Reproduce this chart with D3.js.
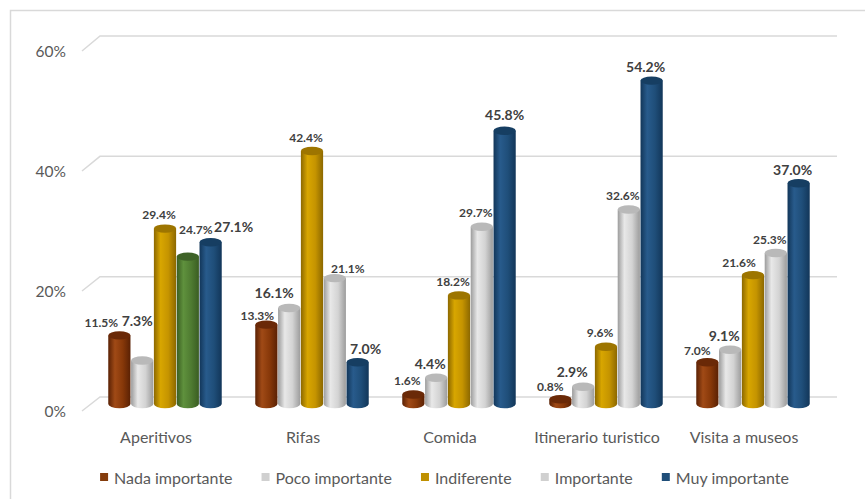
<!DOCTYPE html>
<html>
<head>
<meta charset="utf-8">
<script src="https://cdn.jsdelivr.net/npm/d3@7"></script>
<style>
  html, body { margin: 0; padding: 0; background: #fff; }
  svg { display: block; }
</style>
</head>
<body>
<svg id="chart" width="865" height="499"></svg>
<script>
// Importance ratings per activity (percent)
const categories = ["Aperitivos", "Rifas", "Comida", "Itinerario turistico", "Visita a museos"];
const seriesNames = ["Nada importante", "Poco importante", "Indiferente", "Importante", "Muy importante"];
const nadaImportante = [11.5, 13.3, 1.6, 0.8, 7.0];
const pocoImportante = [7.3, 16.1, 4.4, 2.9, 9.1];
const indiferente    = [29.4, 42.4, 18.2, 9.6, 21.6];
const importante     = [24.7, 21.1, 29.7, 32.6, 25.3];
const muyImportante  = [27.1, 7.0, 45.8, 54.2, 37.0];
const yTicks = [0, 20, 40, 60];

const seriesValues = [nadaImportante, pocoImportante, indiferente, importante, muyImportante];

// Cylinder shading per colour family
const shades = {
  brown: { dark: "#5a2104", light: "#a04a16", base: "#873809", top: "#6a2907", swatch: "#843c0c" },
  gray:  { dark: "#9c9c9c", light: "#e8e8e8", base: "#d3d3d3", top: "#b9b9b9", swatch: "#d0d0d0" },
  gold:  { dark: "#8c6800", light: "#d8a600", base: "#c59400", top: "#9d7500", swatch: "#bf9000" },
  green: { dark: "#3a5d22", light: "#5f913d", base: "#4f7b31", top: "#3e6227", swatch: "#548235" },
  blue:  { dark: "#123659", light: "#285b8c", base: "#1f4e79", top: "#163e62", swatch: "#1f4e79" }
};
const seriesShade = ["brown", "gray", "gold", "gray", "blue"];
// single highlighted point: Aperitivos / Importante
const pointShade = (ci, si) => (ci === 0 && si === 3) ? "green" : seriesShade[si];

// Label nudges (dx, dy) relative to the default spot above each cylinder
const labelNudge = {
  "0-0": [-12, 1], "0-1": [1, -26], "0-3": [14, -13], "0-4": [29, -2],
  "1-0": [-3, 5], "1-1": [-9, -1], "1-3": [19, 4], "1-4": [14, 0],
  "2-4": [6, -2],
  "3-0": [-4, 1], "3-1": [-5, -1],
  "4-0": [-4, 2], "4-2": [-8, 1]
};

const svg = d3.select("#chart");
const FONT = "Lato, 'Open Sans', sans-serif";

// Outer frame
svg.append("rect")
  .attr("x", 10.5).attr("y", 10.5).attr("width", 880).attr("height", 520)
  .attr("fill", "none").attr("stroke", "#d9d9d9").attr("stroke-width", 1.5);

// Scales: back wall, front edge and the bar plane in between
const yBack  = d3.scaleLinear().domain([0, 60]).range([397, 36]);
const yFront = d3.scaleLinear().domain([0, 60]).range([411, 51]);
const yBar   = d3.scaleLinear().domain([0, 60]).range([404, 46]);

const x0 = d3.scaleBand().domain(categories).range([91.5, 826.5])
  .paddingInner(0.224).paddingOuter(0.112);
const x1 = d3.scaleBand().domain(seriesNames).range([0, x0.bandwidth()]);
const wallLeft = 100, wallRight = 837, depthDx = 18;

// Gridlines with the receding floor/wall edge on the left
const grid = svg.append("g");
yTicks.forEach(t => {
  grid.append("path")
    .attr("d", `M${wallLeft - depthDx},${yFront(t)} L${wallLeft},${yBack(t)} L${wallRight},${yBack(t)}`)
    .attr("fill", "none").attr("stroke", "#d9d9d9").attr("stroke-width", 1.5);
});

// Y axis labels
svg.append("g").selectAll("text").data(yTicks).join("text")
  .attr("x", 66).attr("y", d => yFront(d))
  .attr("text-anchor", "end").attr("dominant-baseline", "central")
  .attr("font-family", FONT).attr("font-size", 15.5).attr("fill", "#595959")
  .text(d => d + "%");

// Gradients
const defs = svg.append("defs");
Object.entries(shades).forEach(([k, s]) => {
  const g = defs.append("linearGradient").attr("id", "cyl-" + k)
    .attr("x1", "0%").attr("x2", "100%").attr("y1", "0%").attr("y2", "0%");
  g.append("stop").attr("offset", "0%").attr("stop-color", s.dark);
  g.append("stop").attr("offset", "30%").attr("stop-color", s.light);
  g.append("stop").attr("offset", "65%").attr("stop-color", s.base);
  g.append("stop").attr("offset", "100%").attr("stop-color", s.dark);
});

// Cylinders
const bars = [];
categories.forEach((c, ci) => {
  seriesNames.forEach((s, si) => {
    bars.push({ ci, si, cat: c, ser: s, value: seriesValues[si][ci] });
  });
});

const bw = x1.bandwidth();
const rx = bw / 2 - 0.3, ry = 4.2;
const barG = svg.append("g");
bars.forEach(b => {
  const left = x0(b.cat) + x1(b.ser) + 0.3;
  const right = left + 2 * rx;
  const cx = left + rx;
  const base = yBar(0), top = yBar(b.value);
  const sh = pointShade(b.ci, b.si);
  const g = barG.append("g");
  g.append("path")
    .attr("d", `M${left},${top} L${left},${base} A${rx},${ry} 0 0 0 ${right},${base} L${right},${top} Z`)
    .attr("fill", `url(#cyl-${sh})`);
  g.append("ellipse")
    .attr("cx", cx).attr("cy", top).attr("rx", rx).attr("ry", ry)
    .attr("fill", shades[sh].top);
  b.cx = cx; b.top = top;
});

// Value labels
const bigSeries = new Set([1, 4]);
svg.append("g").selectAll("text").data(bars).join("text")
  .attr("x", d => d.cx - 6 + (labelNudge[d.ci + "-" + d.si] || [0, 0])[0])
  .attr("y", d => d.top - 14 + (labelNudge[d.ci + "-" + d.si] || [0, 0])[1])
  .attr("text-anchor", "middle").attr("dominant-baseline", "central")
  .attr("font-family", FONT).attr("font-weight", 700)
  .attr("font-size", d => bigSeries.has(d.si) ? 14 : 12)
  .attr("fill", "#404040")
  .text(d => d3.format(".1f")(d.value) + "%");

// Category labels along the front edge
svg.append("g").selectAll("text").data(categories).join("text")
  .attr("x", d => x0(d) + x0.bandwidth() / 2 - depthDx / 2)
  .attr("y", 436)
  .attr("text-anchor", "middle").attr("dominant-baseline", "central")
  .attr("font-family", FONT).attr("font-size", 16).attr("fill", "#595959")
  .text(d => d);

// Legend
const legend = svg.append("g");
const items = seriesNames.map((name, i) => {
  const g = legend.append("g");
  g.append("rect").attr("width", 8).attr("height", 8).attr("y", -4)
    .attr("fill", shades[seriesShade[i]].swatch);
  const t = g.append("text").attr("x", 14).attr("y", 0)
    .attr("dominant-baseline", "central")
    .attr("font-family", FONT).attr("font-size", 16).attr("fill", "#595959")
    .text(name);
  return { g, w: 14 + t.node().getComputedTextLength() };
});
const gap = 29;
const total = d3.sum(items, d => d.w) + gap * (items.length - 1);
let lx = 444.5 - total / 2;
items.forEach(it => {
  it.g.attr("transform", `translate(${lx},477)`);
  lx += it.w + gap;
});
</script>
</body>
</html>
